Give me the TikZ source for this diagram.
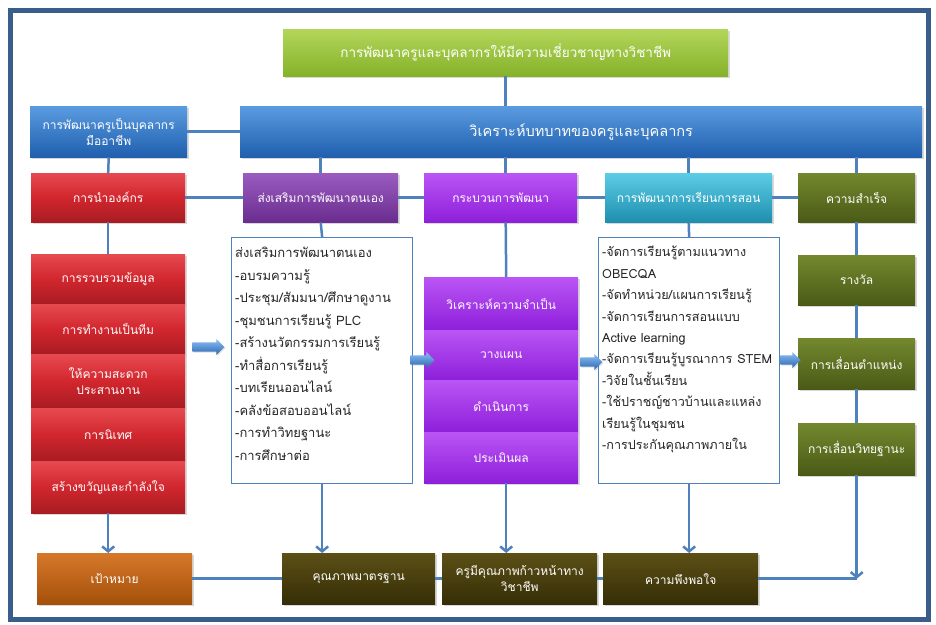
\documentclass[tikz,border=0pt]{standalone}
\usepackage{fontspec}
\setmainfont[Script=Thai]{Loma}
\usetikzlibrary{shapes.arrows,shadows,arrows.meta,calc}
\definecolor{framec}{HTML}{3A5E8C}
\definecolor{linec}{HTML}{4F81BD}
\definecolor{greenT}{HTML}{B2D65A}
\definecolor{greenB}{HTML}{86B22A}
\definecolor{blueT}{HTML}{5A9BE0}
\definecolor{blueB}{HTML}{1F5FAE}
\definecolor{redT}{HTML}{E64A50}
\definecolor{redM}{HTML}{D2262E}
\definecolor{redB}{HTML}{A81C22}
\definecolor{purpT}{HTML}{9A5CC0}
\definecolor{purpB}{HTML}{6A2C8E}
\definecolor{violT}{HTML}{BA55F5}
\definecolor{violB}{HTML}{8E1FDA}
\definecolor{tealT}{HTML}{5CCDE6}
\definecolor{tealB}{HTML}{1E8EAE}
\definecolor{oliveT}{HTML}{73882E}
\definecolor{oliveB}{HTML}{4A5A16}
\definecolor{darkT}{HTML}{5C5016}
\definecolor{darkB}{HTML}{352D06}
\definecolor{brownT}{HTML}{D6782A}
\definecolor{brownB}{HTML}{A4500A}
\definecolor{arrT}{HTML}{8CC0F2}
\definecolor{arrB}{HTML}{2A64B4}
\begin{document}
\begin{tikzpicture}[x=1pt,y=-1pt,
  bx/.style={rectangle, text=white, align=center, inner sep=2pt, anchor=north west,
    font=\fontsize{12}{16}\selectfont,
    drop shadow={opacity=0.3, shadow xshift=1.5pt, shadow yshift=-2pt}},
  sz/.style 2 args={minimum width=#1pt, minimum height=#2pt},
  gbox/.style={bx, top color=greenT, bottom color=greenB},
  bbox/.style={bx, top color=blueT, bottom color=blueB},
  rbox/.style={bx, top color=redT, bottom color=redB, middle color=redM},
  pbox/.style={bx, top color=purpT, bottom color=purpB},
  vbox/.style={bx, top color=violT, bottom color=violB},
  tbx/.style={bx, top color=tealT, bottom color=tealB},
  obox/.style={bx, top color=oliveT, bottom color=oliveB},
  dbox/.style={bx, top color=darkT, bottom color=darkB},
  nbox/.style={bx, top color=brownT, bottom color=brownB},
  tbox/.style={rectangle, draw=linec, line width=1.3pt, fill=white, anchor=north west},
  tbtxt/.style={align=left, anchor=north west, inner sep=0pt, text=black!85},
  conn/.style={draw=linec, line width=2.5pt},
  arr/.style={conn, -{Straight Barb[length=5pt,width=12pt]}},
  blockarr/.style={shape=single arrow, draw=none, single arrow head extend=3pt,
    minimum width=16pt, inner sep=4pt, minimum height=#1pt,
    top color=arrT, bottom color=arrB,
    drop shadow={opacity=0.25, shadow xshift=1pt, shadow yshift=-1pt}}
]
\useasboundingbox (0,0) rectangle (936,624);
\fill[white] (0,0) rectangle (936,624);
\draw[framec, line width=5pt] (10.5,10.5) rectangle (928,619);

% top
\node[gbox, sz={445}{47}, font=\fontsize{13.5}{16}\selectfont] (top) at (283,29) {การพัฒนาครูและบุคลากรให้มีความเชี่ยวชาญทางวิชาชีพ};
\node[bbox, sz={157}{51}] (lb) at (30,106) {การพัฒนาครูเป็นบุคลากร\\มืออาชีพ};
\node[bbox, sz={682}{51}, font=\fontsize{14.5}{16}\selectfont] (bb) at (240,106) {วิเคราะห์บทบาทของครูและบุคลากร};

% headers
\node[rbox, sz={154}{49}] (rh) at (31,173) {การนำองค์กร};
\node[pbox, sz={155}{49}] (ph) at (243,173) {ส่งเสริมการพัฒนาตนเอง};
\node[vbox, sz={153}{49}] (vh) at (424,173) {กระบวนการพัฒนา};
\node[tbx, sz={167}{49}] (th) at (605,173) {การพัฒนาการเรียนการสอน};
\node[obox, sz={117}{49}] (oh) at (798,173) {ความสำเร็จ};

% red stack
\node[rbox, sz={154}{50}] (r1) at (31,254) {การรวบรวมข้อมูล};
\node[rbox, sz={154}{50}] (r2) at (31,304) {การทำงานเป็นทีม};
\node[rbox, sz={154}{54}] (r3) at (31,354) {ให้ความสะดวก\\ประสานงาน};
\node[rbox, sz={154}{53}] (r4) at (31,408) {การนิเทศ};
\node[rbox, sz={154}{52}] (r5) at (31,461) {สร้างขวัญและกำลังใจ};

% text box 1
\node[tbox, sz={181}{246}] (tb1) at (231,237) {};
\node[tbtxt, font=\fontsize{13}{22.5}\selectfont] (tb1t) at ([xshift=4pt,yshift=-10pt]tb1.north west)
 {ส่งเสริมการพัฒนาตนเอง\\-อบรมความรู้\\-ประชุม/สัมมนา/ศึกษาดูงาน\\-ชุมชนการเรียนรู้ PLC\\-สร้างนวัตกรรมการเรียนรู้\\-ทำสื่อการเรียนรู้\\-บทเรียนออนไลน์\\-คลังข้อสอบออนไลน์\\-การทำวิทยฐานะ\\-การศึกษาต่อ};

% violet stack
\node[vbox, sz={154}{53}] (v1) at (424,277) {วิเคราะห์ความจำเป็น};
\node[vbox, sz={154}{50}] (v2) at (424,330) {วางแผน};
\node[vbox, sz={154}{52}] (v3) at (424,380) {ดำเนินการ};
\node[vbox, sz={154}{51}] (v4) at (424,432) {ประเมินผล};

% text box 2
\node[tbox, sz={181}{246}] (tb2) at (598,237) {};
\node[tbtxt, font=\fontsize{12.6}{21.4}\selectfont] (tb2t) at ([xshift=4pt,yshift=-9pt]tb2.north west)
 {-จัดการเรียนรู้ตามแนวทาง\\OBECQA\\-จัดทำหน่วย/แผนการเรียนรู้\\-จัดการเรียนการสอนแบบ\\Active learning\\-จัดการเรียนรู้บูรณาการ\hspace{5pt}STEM\\-วิจัยในชั้นเรียน\\-ใช้ปราชญ์ชาวบ้านและแหล่ง\\เรียนรู้ในชุมชน\\-การประกันคุณภาพภายใน};

% olive column
\node[obox, sz={117}{50}] (o1) at (798,255) {รางวัล};
\node[obox, sz={117}{51}] (o2) at (798,338) {การเลื่อนตำแหน่ง};
\node[obox, sz={117}{52}] (o3) at (798,423) {การเลื่อนวิทยฐานะ};

% bottom row
\node[nbox, sz={155}{51}] (goal) at (37,553) {เป้าหมาย};
\node[dbox, sz={153}{51}] (b1) at (282,553) {คุณภาพมาตรฐาน};
\node[dbox, sz={155}{51}] (b2) at (442,553) {ครูมีคุณภาพก้าวหน้าทาง\\วิชาชีพ};
\node[dbox, sz={155}{51}] (b3) at (603,553) {ความพึงพอใจ};
\coordinate (cr) at (o3.south |- b3.east);

% connectors
\draw[conn] (top.south) -- (top.south |- bb.north);
\draw[conn] (lb.east) -- (bb.west);
\draw[conn] (lb.south) -- (rh.north);
\draw[conn] (bb.south -| ph.north) -- (ph.north);
\draw[conn] ([xshift=5pt]bb.south -| vh.north) -- ([xshift=5pt]vh.north);
\draw[conn] (bb.south -| th.north) -- (th.north);
\draw[conn] (bb.south -| oh.north) -- (oh.north);
\draw[conn] (rh.east) -- (ph.west);
\draw[conn] (ph.east) -- (vh.west);
\draw[conn] (vh.east) -- (th.west);
\draw[conn] (th.east) -- (oh.west);
\draw[conn] (rh.south) -- (r1.north);
\draw[conn] (ph.south) -- (tb1.north);
\draw[conn] ([xshift=5pt]vh.south) -- ([xshift=5pt]v1.north);
\draw[conn] (th.south) -- (tb2.north);
\draw[conn] (oh.south) -- (o1.north);
\draw[conn] (o1.south) -- (o2.north);
\draw[conn] (o2.south) -- (o3.north);
\draw[arr] (r5.south) -- (r5.south |- goal.north);
\draw[arr] (tb1.south) -- (tb1.south |- b1.north);
\draw[arr] ([xshift=5pt]v4.south) -- ([xshift=5pt]v4.south |- b2.north);
\draw[arr] (tb2.south) -- (tb2.south |- b3.north);
\draw[arr] (o3.south) -- (cr);
\draw[conn] (goal.east) -- (b1.west);
\draw[conn] (b1.east) -- (b2.west);
\draw[conn] (b2.east) -- (b3.west);
\draw[conn] (b3.east) -- (cr);

% block arrows
\node[blockarr=32] (ba1) at (206,347) {};
\node[blockarr=24] (ba2) at (420,360) {};
\node[blockarr=22] (ba3) at (589,362) {};
\node[blockarr=20] (ba4) at (788,360) {};
\end{tikzpicture}
\end{document}
